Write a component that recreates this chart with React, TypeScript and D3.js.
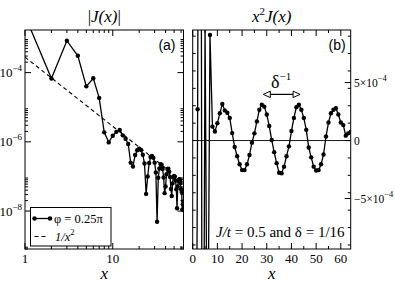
import React, { useEffect, useRef } from 'react';
import * as d3 from 'd3';

// lattice sites x = 1..64
const sites = d3.range(1, 65);

// x^2 J(x) in units of 1e-4 (x <= 7)
const x2J = [
  -44, 2.7, 75, -49, 10, -24.6, 9.1, 1.2, 0.78, 1.5,
  2.35, 3.15, 2.6, 2.4, 1.95, 0.64, -0.56, -1.35, -2.05, -2.55,
  -2.55, -2.05, -1.25, -0.18, 0.62, 1.65, 2.65, 3.08, 2.92, 2.25,
  1.25, 0.05, -1.0, -1.95, -2.78, -2.82, -2.25, -1.35, -0.5, 0.82,
  1.95, 2.88, 3.08, 2.65, 1.95, 0.92, -0.6, -1.45, -2.25, -2.58,
  -2.55, -2.05, -1.2, 0.35, 1.55, 2.35, 2.65, 2.78, 2.25, 1.55,
  1.33, 0.42, 0.62, 0.77,
];
const unit = 1e-4;

// dashed reference C / x^2
const invSquareCoeff = 2.8e-4;

const leftXMajor = [1, 10];
const leftXMinor = [2, 3, 4, 5, 6, 7, 8, 9, 20, 30, 40, 50, 60];
const leftYMajor = [1e-4, 1e-6, 1e-8];
const leftYExp = ['−4', '−6', '−8'];
const rightXMajor = [0, 10, 20, 30, 40, 50, 60];
const rightXMinor = [5, 15, 25, 35, 45, 55];
const rightYMajor = [5e-4, 0, -5e-4];
const rightYMantissa = ['5×10', '0', '−5×10'];
const rightYExp = ['−4', '', '−4'];
const rightYMinorStep = 1.5e-4;

const legendLabels = ['φ = 0.25π', '1/x'];
const paramText = ['J/t', ' = 0.5 and δ = 1/16'];

// period annotation (data units of panel b)
const periodArrow = { x0: 28.6, x1: 43.5, y: 3.98e-4, labelX: 35.8, labelY: 4.5e-4 };

const serif = '"Liberation Serif", "Times New Roman", serif';
const sans = '"Liberation Sans", Arial, sans-serif';

const App: React.FC = () => {
  const svgRef = useRef<SVGSVGElement>(null);

  useEffect(() => {
    if (!svgRef.current) return;
    const svg = d3.select(svgRef.current);
    svg.selectAll('*').remove();

    const top = 30;
    const bottom = 249;
    const lx = d3.scaleLog().domain([1, 64]).range([25, 183.5]);
    const ly = d3.scaleLog().domain([8e-10, 1.7e-3]).range([bottom, top]);
    const rx = d3.scaleLinear().domain([0, 64]).range([192.7, 350.7]);
    const ry = d3.scaleLinear().domain([-9.35e-4, 9.53e-4]).range([bottom, top]);

    const defs = svg.append('defs');
    defs.append('clipPath').attr('id', 'clipA').append('rect')
      .attr('x', lx.range()[0]).attr('y', top)
      .attr('width', lx.range()[1] - lx.range()[0]).attr('height', bottom - top);
    defs.append('clipPath').attr('id', 'clipB').append('rect')
      .attr('x', rx.range()[0]).attr('y', top)
      .attr('width', rx.range()[1] - rx.range()[0]).attr('height', bottom - top);

    const leftPts = sites.map((x, i) => ({ x, v: (Math.abs(x2J[i]) * unit) / (x * x) }));
    const rightPts = sites.map((x, i) => ({ x, v: x2J[i] * unit }));

    // ---- panel (a)
    const ga = svg.append('g').attr('clip-path', 'url(#clipA)');
    const dashLine = d3.line<number>()
      .x(x => lx(x))
      .y(x => ly(invSquareCoeff / (x * x)));
    ga.append('path')
      .datum(sites)
      .attr('d', dashLine)
      .attr('fill', 'none')
      .attr('stroke', '#000')
      .attr('stroke-width', 1.1)
      .attr('stroke-dasharray', '4,3');

    const lineA = d3.line<{ x: number; v: number }>()
      .x(d => lx(d.x))
      .y(d => ly(d.v));
    ga.append('path')
      .datum(leftPts)
      .attr('d', lineA)
      .attr('fill', 'none')
      .attr('stroke', '#000')
      .attr('stroke-width', 1.3);
    ga.selectAll('circle')
      .data(leftPts)
      .join('circle')
      .attr('cx', d => lx(d.x))
      .attr('cy', d => ly(d.v))
      .attr('r', 2.2)
      .attr('fill', '#000');

    // ---- panel (b)
    const gb = svg.append('g').attr('clip-path', 'url(#clipB)');
    gb.append('line')
      .attr('x1', rx.range()[0]).attr('x2', rx.range()[1])
      .attr('y1', ry(0)).attr('y2', ry(0))
      .attr('stroke', '#000').attr('stroke-width', 0.9);
    const lineB = d3.line<{ x: number; v: number }>()
      .x(d => rx(d.x))
      .y(d => ry(d.v));
    gb.append('path')
      .datum(rightPts)
      .attr('d', lineB)
      .attr('fill', 'none')
      .attr('stroke', '#000')
      .attr('stroke-width', 1.3);
    gb.selectAll('circle')
      .data(rightPts)
      .join('circle')
      .attr('cx', d => rx(d.x))
      .attr('cy', d => ry(d.v))
      .attr('r', 2.2)
      .attr('fill', '#000');

    // ---- frames and ticks
    const axes = svg.append('g').attr('stroke', '#000').attr('stroke-width', 1);
    const frame = (x0: number, x1: number) => {
      axes.append('rect')
        .attr('x', x0).attr('y', top)
        .attr('width', x1 - x0).attr('height', bottom - top)
        .attr('fill', 'none');
    };
    const xTicks = (vals: number[], sc: (v: number) => number, len: number) => {
      vals.forEach(v => {
        const px = sc(v);
        axes.append('line').attr('x1', px).attr('x2', px).attr('y1', bottom).attr('y2', bottom - len);
        axes.append('line').attr('x1', px).attr('x2', px).attr('y1', top).attr('y2', top + len);
      });
    };
    const yTicks = (vals: number[], sc: (v: number) => number, x0: number, x1: number, lenL: number, lenR: number) => {
      vals.forEach(v => {
        const py = sc(v);
        if (py < top - 0.5 || py > bottom + 0.5) return;
        if (lenL > 0) axes.append('line').attr('x1', x0).attr('x2', x0 + lenL).attr('y1', py).attr('y2', py);
        if (lenR > 0) axes.append('line').attr('x1', x1).attr('x2', x1 - lenR).attr('y1', py).attr('y2', py);
      });
    };

    const [ax0, ax1] = lx.range();
    const [bx0, bx1] = rx.range();
    frame(ax0, ax1);
    frame(bx0, bx1);

    xTicks(leftXMajor, lx, 6);
    xTicks(leftXMinor, lx, 3);
    yTicks(leftYMajor, ly, ax0, ax1, 6, 6);
    const leftYMinor: number[] = [];
    [-10, -8, -6, -4, -2].forEach(m => {
      d3.range(2, 10).forEach(k => leftYMinor.push(k * Math.pow(10, m)));
    });
    yTicks(leftYMinor, ly, ax0, ax1, 3, 3);

    xTicks(rightXMajor, rx, 6);
    xTicks(rightXMinor, rx, 3);
    yTicks(rightYMajor, ry, bx0, bx1, 0, 6);
    const rightYMinor = d3.range(-6, 7).map(k => k * rightYMinorStep);
    yTicks(rightYMinor, ry, bx0, bx1, 3, 3);

    // ---- tick labels
    const text = svg.append('g').style('font-family', serif).attr('fill', '#000');
    leftXMajor.forEach(v => {
      text.append('text').attr('x', lx(v)).attr('y', 263)
        .attr('text-anchor', 'middle').attr('font-size', 13).text(String(v));
    });
    leftYMajor.forEach((v, i) => {
      const t = text.append('text').attr('x', 22).attr('y', ly(v) + 4.5)
        .attr('text-anchor', 'end').attr('font-size', 13);
      t.append('tspan').text('10');
      t.append('tspan').attr('dy', -6).attr('font-size', 9).text(leftYExp[i]);
    });
    rightXMajor.forEach(v => {
      text.append('text').attr('x', rx(v)).attr('y', 263)
        .attr('text-anchor', 'middle').attr('font-size', 13).text(String(v));
    });
    rightYMajor.forEach((v, i) => {
      const t = text.append('text').attr('x', 354).attr('y', ry(v) + 4.5)
        .attr('font-size', 11.5);
      t.append('tspan').text(rightYMantissa[i]);
      if (rightYExp[i]) t.append('tspan').attr('dy', -6).attr('font-size', 8.5).text(rightYExp[i]);
    });

    // axis titles
    text.append('text').attr('x', (ax0 + ax1) / 2).attr('y', 279)
      .attr('text-anchor', 'middle').attr('font-size', 17).attr('font-style', 'italic').text('x');
    text.append('text').attr('x', (bx0 + bx1) / 2).attr('y', 279)
      .attr('text-anchor', 'middle').attr('font-size', 17).attr('font-style', 'italic').text('x');

    // panel titles
    const tA = text.append('text').attr('x', (ax0 + ax1) / 2).attr('y', 22)
      .attr('text-anchor', 'middle').attr('font-size', 17);
    tA.append('tspan').text('|');
    tA.append('tspan').attr('font-style', 'italic').text('J(x)');
    tA.append('tspan').text('|');
    const tB = text.append('text').attr('x', (bx0 + bx1) / 2).attr('y', 22)
      .attr('text-anchor', 'middle').attr('font-size', 17);
    tB.append('tspan').attr('font-style', 'italic').text('x');
    tB.append('tspan').attr('dy', -7).attr('font-size', 11).text('2');
    tB.append('tspan').attr('dy', 7).attr('font-style', 'italic').text('J(x)');

    // panel tags
    svg.append('text').attr('x', ax1 - 8).attr('y', 50).attr('text-anchor', 'end')
      .style('font-family', sans).attr('font-size', 14).text('(a)');
    svg.append('text').attr('x', bx1 - 5).attr('y', 50).attr('text-anchor', 'end')
      .style('font-family', sans).attr('font-size', 14).text('(b)');

    // ---- legend (panel a)
    const lg = svg.append('g');
    lg.append('rect').attr('x', 30.5).attr('y', 207.5).attr('width', 80.5).attr('height', 38.5)
      .attr('fill', '#fff').attr('stroke', '#000').attr('stroke-width', 1);
    lg.append('line').attr('x1', 34.5).attr('x2', 50).attr('y1', 218.5).attr('y2', 218.5)
      .attr('stroke', '#000').attr('stroke-width', 1.3);
    [34.5, 50].forEach(cx => {
      lg.append('circle').attr('cx', cx).attr('cy', 218.5).attr('r', 2.2).attr('fill', '#000');
    });
    lg.append('text').attr('x', 54).attr('y', 222.5).style('font-family', serif)
      .attr('font-size', 12.5).text(legendLabels[0]);
    lg.append('line').attr('x1', 34.5).attr('x2', 48).attr('y1', 236.5).attr('y2', 236.5)
      .attr('stroke', '#000').attr('stroke-width', 1.1).attr('stroke-dasharray', '4,3');
    const l2 = lg.append('text').attr('x', 55).attr('y', 241).style('font-family', serif)
      .attr('font-size', 12.5).attr('font-style', 'italic');
    l2.append('tspan').text(legendLabels[1]);
    l2.append('tspan').attr('dy', -6).attr('font-size', 8.5).attr('font-style', 'normal').text('2');

    // ---- parameter text (panel b)
    const pt = svg.append('text').attr('x', 216).attr('y', 237).style('font-family', serif)
      .attr('font-size', 15);
    pt.append('tspan').attr('font-style', 'italic').text(paramText[0]);
    pt.append('tspan').text(paramText[1]);

    // ---- period arrow
    const ay = ry(periodArrow.y);
    const p0 = rx(periodArrow.x0);
    const p1 = rx(periodArrow.x1);
    const head = 7;
    svg.append('line').attr('x1', p0 + head).attr('x2', p1 - head).attr('y1', ay).attr('y2', ay)
      .attr('stroke', '#000').attr('stroke-width', 1.2);
    svg.append('path')
      .attr('d', `M${p0},${ay} L${p0 + head},${ay - 3.2} L${p0 + head},${ay + 3.2} Z`)
      .attr('fill', '#fff').attr('stroke', '#000').attr('stroke-width', 1);
    svg.append('path')
      .attr('d', `M${p1},${ay} L${p1 - head},${ay - 3.2} L${p1 - head},${ay + 3.2} Z`)
      .attr('fill', '#fff').attr('stroke', '#000').attr('stroke-width', 1);
    const dl = svg.append('text').attr('x', rx(periodArrow.labelX)).attr('y', ry(periodArrow.labelY))
      .attr('text-anchor', 'middle').style('font-family', serif).attr('font-size', 18);
    dl.append('tspan').text('δ');
    dl.append('tspan').attr('dy', -8).attr('font-size', 11).text('−1');
  }, []);

  return (
    <svg
      ref={svgRef}
      width={395}
      height={282}
      style={{ position: 'absolute', left: 0, top: 0, background: '#fff' }}
    />
  );
};

export default App;
